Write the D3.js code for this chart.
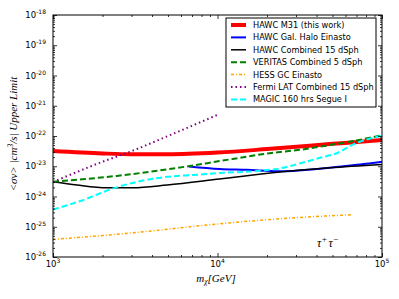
<!DOCTYPE html>
<html>
<head>
<meta charset="utf-8">
<script src="https://cdn.jsdelivr.net/npm/d3@7"></script>
<style>
  body { margin: 0; background: #fff; }
</style>
</head>
<body>
<svg id="chart"></svg>
<script>
// ---- data ----
const mass_m31 = [1000, 2000, 3000, 5000, 10000, 20000, 50000, 100000];
const sv_m31 = [3.2e-23, 2.65e-23, 2.5e-23, 2.5e-23, 2.85e-23, 3.7e-23, 5.5e-23, 7.4e-23];

const mass_gal = [6700, 10300, 15000, 24000, 40000, 60000, 80000, 100000];
const sv_gal = [9.8e-24, 8.1e-24, 7.6e-24, 6.8e-24, 8.1e-24, 1.02e-23, 1.2e-23, 1.41e-23];

const mass_dsph = [1000, 1400, 2130, 3060, 4940, 10300, 23900, 48000, 100000];
const sv_dsph = [3.1e-24, 2.4e-24, 1.95e-24, 1.95e-24, 2.4e-24, 3.8e-24, 6.5e-24, 8.9e-24, 1.15e-23];

const mass_veritas = [1000, 1500, 2450, 3900, 6800, 10300, 20800, 33000, 53000, 68000, 100000];
const sv_veritas = [3.1e-24, 3.7e-24, 4.8e-24, 6.6e-24, 1.02e-23, 1.48e-23, 2.7e-23, 3.6e-23, 5.5e-23, 6.9e-23, 1.07e-22];

const mass_hess = [1000, 3080, 9900, 31800, 66700];
const sv_hess = [3.8e-26, 6.3e-26, 1.23e-25, 2.04e-25, 2.5e-25];

const mass_fermi = [1000, 2000, 3000, 5000, 10000];
const sv_fermi = [3.0e-24, 1.41e-23, 3.16e-23, 1.0e-22, 5.0e-22];

const mass_magic = [1000, 1500, 2300, 3200, 5000, 7000, 10000, 18000, 24000, 32000, 42000, 53000, 68000, 100000];
const sv_magic = [3.7e-25, 7.4e-25, 1.82e-24, 3.0e-24, 4.5e-24, 5.1e-24, 5.9e-24, 7.1e-24, 8.5e-24, 1.26e-23, 1.9e-23, 2.7e-23, 5.5e-23, 1.02e-22];

const xMajor = [1e3, 1e4, 1e5];
const xMajorExp = ["3", "4", "5"];
const yMajorExp = [-26, -25, -24, -23, -22, -21, -20, -19, -18];

const series = [
  {name: "HAWC M31 (this work)", mass: mass_m31, sv: sv_m31, color: "#ff0000", width: 4, dash: null},
  {name: "HAWC Gal. Halo Einasto", mass: mass_gal, sv: sv_gal, color: "#0000ff", width: 2, dash: null},
  {name: "HAWC Combined 15 dSph", mass: mass_dsph, sv: sv_dsph, color: "#000000", width: 1.5, dash: null},
  {name: "VERITAS Combined 5 dSph", mass: mass_veritas, sv: sv_veritas, color: "#008000", width: 2, dash: "6,3"},
  {name: "HESS GC Einasto", mass: mass_hess, sv: sv_hess, color: "#ffa500", width: 1.5, dash: "3,2,1,2"},
  {name: "Fermi LAT Combined 15 dSph", mass: mass_fermi, sv: sv_fermi, color: "#800080", width: 2, dash: "1.5,3"},
  {name: "MAGIC 160 hrs Segue I", mass: mass_magic, sv: sv_magic, color: "#00ffff", width: 2, dash: "6,3"}
];

// ---- layout ----
const W = 399, H = 299;
const plot = {left: 53, right: 382, top: 15, bottom: 257};

const svg = d3.select("#chart")
  .attr("width", W)
  .attr("height", H)
  .attr("font-family", "DejaVu Sans, sans-serif");

const x = d3.scaleLog().domain([1e3, 1e5]).range([plot.left, plot.right]);
const y = d3.scaleLog().domain([1e-26, 1e-18]).range([plot.bottom, plot.top]);

function minorTicks(lo, hi) {
  let out = [];
  for (let e = lo; e < hi; e++) {
    for (let k = 2; k <= 9; k++) out.push(k * Math.pow(10, e));
  }
  return out;
}

function drawLines() {
  const line = d3.line()
    .x(d => x(d[0]))
    .y(d => y(d[1]))
    .curve(d3.curveMonotoneX);
  const g = svg.append("g")
    .attr("clip-path", "url(#clip)");
  series.forEach(s => {
    g.append("path")
      .datum(s.mass.map((m, i) => [m, s.sv[i]]))
      .attr("d", line)
      .attr("fill", "none")
      .attr("stroke", s.color)
      .attr("stroke-width", s.width)
      .attr("stroke-dasharray", s.dash);
  });
}

function drawAxes() {
  const xMinor = minorTicks(3, 5);
  const yMinor = minorTicks(-26, -18);
  const yMajor = yMajorExp.map(e => Math.pow(10, e));

  const sets = [
    [d3.axisBottom, x, plot.bottom, "x"],
    [d3.axisTop, x, plot.top, "x"],
    [d3.axisLeft, y, plot.left, "y"],
    [d3.axisRight, y, plot.right, "y"]
  ];
  sets.forEach(([mk, sc, pos, dir]) => {
    const major = dir == "x" ? xMajor : yMajor;
    const minor = dir == "x" ? xMinor : yMinor;
    [[major, 4], [minor, 2]].forEach(([vals, len]) => {
      const a = mk(sc).tickValues(vals).tickSize(-len).tickFormat("");
      const g = svg.append("g")
        .attr("transform", dir == "x" ? `translate(0,${pos})` : `translate(${pos},0)`)
        .call(a);
      g.select(".domain").remove();
      g.selectAll("line").attr("stroke", "#000").attr("stroke-width", 0.8);
    });
  });

  // frame
  svg.append("rect")
    .attr("x", plot.left)
    .attr("y", plot.top)
    .attr("width", plot.right - plot.left)
    .attr("height", plot.bottom - plot.top)
    .attr("fill", "none")
    .attr("stroke", "#000")
    .attr("stroke-width", 1);

  // x tick labels
  xMajor.forEach((v, i) => {
    const t = svg.append("text")
      .attr("x", x(v))
      .attr("y", plot.bottom + 10)
      .attr("text-anchor", "middle")
      .attr("font-size", 8.5);
    t.append("tspan").text("10");
    t.append("tspan").attr("dy", -4).attr("font-size", 6).text(xMajorExp[i]);
  });

  // y tick labels
  yMajorExp.forEach(e => {
    const t = svg.append("text")
      .attr("x", plot.left - 7)
      .attr("y", y(Math.pow(10, e)) + 3)
      .attr("text-anchor", "end")
      .attr("font-size", 8.5);
    t.append("tspan").text("10");
    t.append("tspan").attr("dy", -4).attr("font-size", 6).text(e);
  });

  // axis titles
  const xl = svg.append("text")
    .attr("x", 216)
    .attr("y", 282)
    .attr("text-anchor", "middle")
    .attr("font-family", "Liberation Serif, serif")
    .attr("font-style", "italic")
    .attr("font-size", 11);
  xl.append("tspan").text("m");
  xl.append("tspan").attr("dy", 2).attr("font-size", 7.5).text("χ");
  xl.append("tspan").attr("dy", -2).text("[GeV]");

  const yl = svg.append("text")
    .attr("transform", `translate(17,134) rotate(-90)`)
    .attr("text-anchor", "middle")
    .attr("font-family", "Liberation Serif, serif")
    .attr("font-style", "italic")
    .attr("font-size", 11);
  yl.append("tspan").text("<σv> |cm");
  yl.append("tspan").attr("dy", -4).attr("font-size", 7.5).text("3");
  yl.append("tspan").attr("dy", 4).text("/s| Upper Limit");

  const tau = svg.append("text")
    .attr("x", 317)
    .attr("y", 247)
    .attr("font-family", "Liberation Serif, serif")
    .attr("font-style", "italic")
    .attr("font-size", 12);
  tau.append("tspan").text("τ");
  tau.append("tspan").attr("dy", -5).attr("font-size", 9).text("+");
  tau.append("tspan").attr("dy", 5).attr("dx", 1).text("τ");
  tau.append("tspan").attr("dy", -5).attr("font-size", 9).text("−");
}

function drawLegend() {
  const box = {x: 226, y: 18, w: 150, h: 89};
  const g = svg.append("g");
  g.append("rect")
    .attr("x", box.x)
    .attr("y", box.y)
    .attr("width", box.w)
    .attr("height", box.h)
    .attr("fill", "#fff")
    .attr("stroke", "#000")
    .attr("stroke-width", 1);
  series.forEach((s, i) => {
    const yy = 25 + i * 12.4;
    g.append("line")
      .attr("x1", 231)
      .attr("x2", 246)
      .attr("y1", yy)
      .attr("y2", yy)
      .attr("stroke", s.color)
      .attr("stroke-width", s.width)
      .attr("stroke-dasharray", s.dash);
    g.append("text")
      .attr("x", 253)
      .attr("y", yy + 3)
      .attr("font-size", 8.2)
      .attr("fill", "#000")
      .text(s.name);
  });
}

svg.append("defs").append("clipPath")
  .attr("id", "clip")
  .append("rect")
  .attr("x", plot.left)
  .attr("y", plot.top)
  .attr("width", plot.right - plot.left)
  .attr("height", plot.bottom - plot.top);

drawLines();
drawAxes();
drawLegend();
</script>
</body>
</html>
